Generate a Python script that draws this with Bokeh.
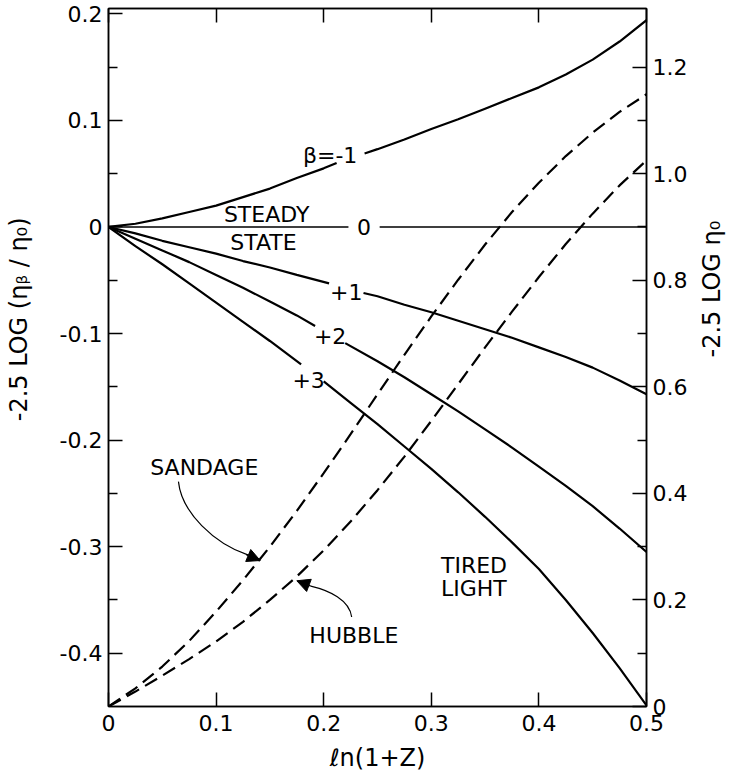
import math
from bokeh.plotting import figure
from bokeh.models import (Range1d, LinearAxis, FixedTicker, CustomJSTickFormatter,
                          Arrow, NormalHead)
from bokeh.core.properties import value
from bokeh.embed import file_html
from bokeh.resources import INLINE

nan = float("nan")

# ---------------- data ----------------
x_ticks = [0, 0.1, 0.2, 0.3, 0.4, 0.5]
x_tick_labels = ["0", "0.1", "0.2", "0.3", "0.4", "0.5"]
left_ticks = [-0.4, -0.3, -0.2, -0.1, 0, 0.1, 0.2]
left_tick_labels = ["-0.4", "-0.3", "-0.2", "-0.1", "0", "0.1", "0.2"]
left_minor = [-0.35, -0.25, -0.15, -0.05, 0.05, 0.15]
right_ticks = [0, 0.2, 0.4, 0.6, 0.8, 1.0, 1.2]
right_tick_labels = ["0", "0.2", "0.4", "0.6", "0.8", "1.0", "1.2"]
right_minor = [0.1, 0.3, 0.5, 0.7, 0.9, 1.1]

# solid curves, left axis  (-2.5 log(eta_beta/eta_0)); nan = gap left for the curve label
beta_m1_x = [0, .025, .05, .075, .1, .125, .15, .175, .2, .212, nan,
             .238, .25, .275, .3, .325, .35, .375, .4, .425, .45, .475, .5]
beta_m1_y = [0, .003, .008, .014, .020, .028, .036, .046, .055, .060, nan,
             .069, .073, .082, .092, .101, .111, .121, .131, .143, .157, .174, .194]

beta_0_x = [0, 0.223, nan, 0.252, 0.5]
beta_0_y = [0, 0, nan, 0, 0]

beta_p1_x = [0, .025, .05, .075, .1, .125, .15, .175, .205, nan,
             .237, .25, .275, .3, .325, .35, .375, .4, .425, .45, .475, .5]
beta_p1_y = [0, -.006, -.013, -.019, -.025, -.032, -.038, -.045, -.053, nan,
             -.062, -.065, -.073, -.080, -.088, -.096, -.104, -.113, -.122, -.132, -.144, -.157]

beta_p2_x = [0, .025, .05, .075, .1, .125, .15, .175, .192, nan,
             .22, .25, .275, .3, .325, .35, .375, .4, .425, .45, .475, .5]
beta_p2_y = [0, -.011, -.022, -.033, -.045, -.057, -.070, -.083, -.093, nan,
             -.109, -.126, -.141, -.157, -.173, -.190, -.207, -.225, -.243, -.262, -.283, -.305]

beta_p3_x = [0, .025, .05, .075, .1, .125, .15, .179, nan,
             .2, .225, .25, .275, .3, .325, .35, .375, .4, .425, .45, .475, .5]
beta_p3_y = [0, -.018, -.035, -.053, -.071, -.089, -.107, -.129, nan,
             -.145, -.165, -.185, -.206, -.227, -.249, -.272, -.296, -.321, -.350, -.381, -.414, -.449]

# dashed curves, right axis (-2.5 log eta_0)
obs_x = [0, .025, .05, .075, .1, .125, .15, .175, .2, .225, .25,
         .275, .3, .325, .35, .375, .4, .425, .45, .475, .5]
sandage_r = [0, .034, .075, .123, .178, .237, .300, .367, .438, .511, .586,
             .660, .732, .801, .867, .928, .983, 1.033, 1.077, 1.116, 1.149]
hubble_r = [0, .028, .058, .089, .122, .159, .200, .244, .293, .347, .406,
            .469, .536, .605, .674, .741, .806, .868, .925, .978, 1.025]

# curve labels
curve_labels = ["β=-1", "0", "+1", "+2", "+3"]
curve_label_x = [0.206, 0.2375, 0.221, 0.206, 0.186]
curve_label_y = [0.067, 0.0, -0.061, -0.102, -0.144]

note_labels = ["STEADY", "STATE", "SANDAGE", "HUBBLE"]
note_x = [0.147, 0.144, 0.089, 0.228]
note_y = [0.012, -0.015, -0.226, -0.383]

tired_labels = ["TIRED", "LIGHT"]
tired_x = [0.309, 0.309]
tired_y = [-0.318, -0.339]

x_title = "ℓn(1+Z)"
left_title = "-2.5 LOG (ηᵦ / η₀)"
right_title = "-2.5 LOG η₀"

FONT = "DejaVu Sans"


def tick_fmt(ticks, labels):
    return CustomJSTickFormatter(args=dict(t=ticks, l=labels), code="""
        let b = 0;
        for (let i = 0; i < t.length; i++) {
            if (Math.abs(t[i] - tick) < Math.abs(t[b] - tick)) b = i;
        }
        return l[b];
    """)


p = figure(frame_width=538, frame_height=698,
           x_range=Range1d(0, 0.5), y_range=Range1d(-0.45, 0.205),
           output_backend="svg", toolbar_location=None,
           min_border_left=108, min_border_right=84,
           min_border_top=8, min_border_bottom=64)
p.extra_y_ranges = {"r": Range1d(0, 1.31)}
p.xgrid.visible = False
p.ygrid.visible = False
p.outline_line_color = "black"
p.outline_line_width = 1.5
p.outline_line_alpha = 1.0
p.background_fill_color = "white"
p.border_fill_color = "white"


def style_axis(ax, size="22px"):
    ax.axis_line_color = "black"
    ax.axis_line_width = 1.5
    ax.major_tick_line_color = "black"
    ax.major_tick_line_width = 1.5
    ax.minor_tick_line_color = "black"
    ax.minor_tick_line_width = 1.5
    ax.major_tick_in = 14
    ax.major_tick_out = 0
    ax.minor_tick_in = 9
    ax.minor_tick_out = 0
    ax.major_label_text_font = FONT
    ax.major_label_text_font_size = size
    ax.major_label_text_color = "black"
    ax.axis_label_text_font = FONT
    ax.axis_label_text_font_style = "normal"
    ax.axis_label_text_color = "black"


# bottom axis
xa = p.xaxis[0]
xa.ticker = FixedTicker(ticks=x_ticks, minor_ticks=[])
xa.formatter = tick_fmt(x_ticks, x_tick_labels)
style_axis(xa)
xa.major_label_standoff = 8
xa.axis_label = x_title
xa.axis_label_text_font_size = "24px"
xa.axis_label_standoff = 10

# left axis (leading no-break spaces lift the title a little above centre)
ya = p.yaxis[0]
ya.ticker = FixedTicker(ticks=left_ticks, minor_ticks=left_minor)
ya.formatter = tick_fmt(left_ticks, left_tick_labels)
style_axis(ya)
ya.major_label_standoff = 6
ya.axis_label = "\u00a0" * 10 + left_title
ya.axis_label_text_font_size = "24px"
ya.axis_label_standoff = 24

# right axis
ra = LinearAxis(y_range_name="r",
                ticker=FixedTicker(ticks=right_ticks, minor_ticks=right_minor),
                formatter=tick_fmt(right_ticks, right_tick_labels))
style_axis(ra)
ra.major_label_standoff = 6
ra.axis_label = right_title
ra.axis_label_text_font_size = "24px"
ra.axis_label_standoff = 22
ra.axis_label_orientation = math.pi / 2
p.add_layout(ra, "right")

# top axis (ticks only)
ta = LinearAxis(ticker=FixedTicker(ticks=x_ticks, minor_ticks=[]),
                formatter=CustomJSTickFormatter(code="return '';"))
style_axis(ta)
p.add_layout(ta, "above")

# curves
solid = dict(line_color="black", line_width=2.2)
p.line(beta_m1_x, beta_m1_y, **solid)
p.line(beta_0_x, beta_0_y, line_color="black", line_width=1.4)
p.line(beta_p1_x, beta_p1_y, **solid)
p.line(beta_p2_x, beta_p2_y, **solid)
p.line(beta_p3_x, beta_p3_y, **solid)
p.line(obs_x, sandage_r, y_range_name="r", line_color="black", line_width=2.2, line_dash="14 7")
p.line(obs_x, hubble_r, y_range_name="r", line_color="black", line_width=2.2, line_dash="14 7")

# labels
txt = dict(text_font=value(FONT), text_font_size="22px", text_color="black",
           text_baseline="middle")
p.text(x=curve_label_x, y=curve_label_y, text=curve_labels, text_align="center", **txt)
p.text(x=note_x, y=note_y, text=note_labels, text_align="center", **txt)
p.text(x=tired_x, y=tired_y, text=tired_labels, text_align="left", **txt)

# annotation arrows (curved pointer lines + heads)
p.bezier(x0=[0.065, 0.226], y0=[-0.239, -0.366],
         x1=[0.130, 0.188], y1=[-0.308, -0.337],
         cx0=[0.068, 0.224], cy0=[-0.268, -0.350],
         cx1=[0.098, 0.205], cy1=[-0.297, -0.341],
         line_color="black", line_width=1.2)
p.add_layout(Arrow(end=NormalHead(size=13, fill_color="black", line_color="black"),
                   x_start=0.128, y_start=-0.3075, x_end=0.141, y_end=-0.313,
                   line_color="black", line_width=1.2))
p.add_layout(Arrow(end=NormalHead(size=13, fill_color="black", line_color="black"),
                   x_start=0.188, y_start=-0.337, x_end=0.175, y_end=-0.332,
                   line_color="black", line_width=1.2))

open("out.html", "w").write(file_html(p, INLINE))
